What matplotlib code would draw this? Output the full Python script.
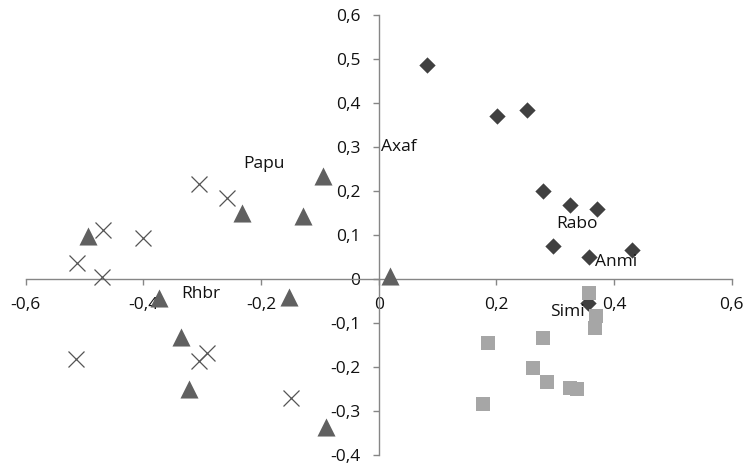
import matplotlib
matplotlib.use("Agg")
import matplotlib.pyplot as plt
from matplotlib.ticker import FuncFormatter, MultipleLocator

plt.rcParams['font.family'] = ['Open Sans', 'DejaVu Sans']

# Diamonds (dark)
dia_x = [0.083, 0.201, 0.252, 0.280, 0.325, 0.371, 0.296, 0.358, 0.431, 0.356]
dia_y = [0.486, 0.370, 0.385, 0.199, 0.169, 0.160, 0.075, 0.051, 0.067, -0.054]

# Squares (light gray)
sq_x = [0.358, 0.370, 0.368, 0.280, 0.186, 0.262, 0.286, 0.325, 0.338, 0.178]
sq_y = [-0.031, -0.083, -0.111, -0.133, -0.145, -0.203, -0.233, -0.247, -0.249, -0.285]

# Triangles (mid gray)
tri_x = [-0.094, -0.128, -0.233, -0.494, 0.020, -0.374, -0.153, -0.336, -0.322, -0.089]
tri_y = [0.234, 0.143, 0.149, 0.098, 0.007, -0.044, -0.041, -0.131, -0.251, -0.336]

# Crosses
cr_x = [-0.306, -0.258, -0.468, -0.401, -0.512, -0.470, -0.514, -0.305, -0.291, -0.149]
cr_y = [0.217, 0.185, 0.111, 0.093, 0.037, 0.005, -0.181, -0.186, -0.169, -0.271]

# Labels
lab_text = ['Papu', 'Axaf', 'Rabo', 'Anmi', 'Simi', 'Rhbr']
lab_x = [-0.195, 0.035, 0.337, 0.404, 0.321, -0.303]
lab_y = [0.262, 0.300, 0.124, 0.039, -0.075, -0.033]

fig = plt.figure(figsize=(7.45, 4.68), dpi=100)
ax = fig.add_axes([0.0345, 0.0278, 0.9475, 0.9402])

ax.scatter(sq_x, sq_y, marker='s', s=9.5**2, color='#a6a6a6', zorder=3, linewidths=0)
ax.scatter(dia_x, dia_y, marker='D', s=8.3**2, color='#404040', zorder=2, linewidths=0)
ax.scatter(tri_x, tri_y, marker='^', s=13**2, color='#606060', zorder=3, linewidths=0)
ax.scatter(cr_x, cr_y, marker='x', s=11.5**2, color='#555555', zorder=3, linewidths=0.9)

for t, x, y in zip(lab_text, lab_x, lab_y):
    ax.text(x, y, t, ha='center', va='center', fontsize=12.5, color='#111111', zorder=4)

ax.set_xlim(-0.6, 0.6)
ax.set_ylim(-0.4, 0.6)
ax.spines['left'].set_position(('data', 0))
ax.spines['bottom'].set_position(('data', 0))
ax.spines['top'].set_visible(False)
ax.spines['right'].set_visible(False)
for s in ['left', 'bottom']:
    ax.spines[s].set_color('#868686')
    ax.spines[s].set_linewidth(1.0)

ax.xaxis.set_major_locator(MultipleLocator(0.2))
ax.yaxis.set_major_locator(MultipleLocator(0.1))
fmt = FuncFormatter(lambda v, p: ('0' if abs(v) < 1e-9 else f'{v:.1f}'.replace('.', ',')))
ax.xaxis.set_major_formatter(fmt)
ax.yaxis.set_major_formatter(fmt)
ax.tick_params(axis='both', direction='out', length=4, width=1.0, color='#868686',
               labelsize=12.5, labelcolor='#111111', pad=9)
ax.patch.set_alpha(0)

fig.savefig('out.png', dpi=100)
